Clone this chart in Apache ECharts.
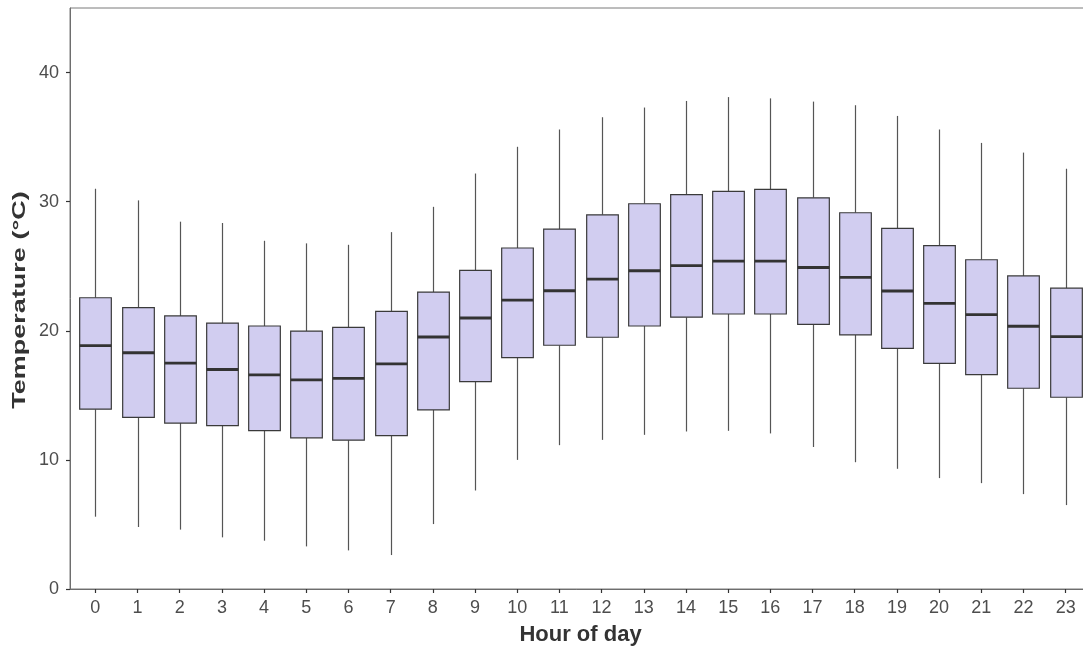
<!DOCTYPE html>
<html lang="en">
<head>
    <meta charset="UTF-8">
    <title>Temperature by hour</title>
    <script src="https://cdn.jsdelivr.net/npm/echarts@6/dist/echarts.min.js"></script>
    <style>
        html, body { margin: 0; padding: 0; background: #fff; }
        #boxchart { width: 1083px; height: 647px; }
    </style>
</head>
<body>
    <div id="boxchart"></div>
</body>
<script type="text/javascript">
    // hour of day (categories)
    var hours = [0, 1, 2, 3, 4, 5, 6, 7, 8, 9, 10, 11, 12, 13, 14, 15, 16, 17, 18, 19, 20, 21, 22, 23];
    // boxplot stats (°C)
    var whiskerHigh = [31.0, 30.1, 28.45, 28.35, 26.97, 26.77, 26.66, 27.64, 29.6, 32.18, 34.25, 35.59, 36.54, 37.29, 37.8, 38.1, 38.0, 37.75, 37.47, 36.64, 35.59, 34.55, 33.8, 32.55];
    var q3 = [22.56, 21.8, 21.15, 20.6, 20.37, 19.98, 20.27, 21.51, 23.0, 24.68, 26.41, 27.88, 28.98, 29.84, 30.55, 30.8, 30.95, 30.3, 29.14, 27.93, 26.59, 25.5, 24.25, 23.3];
    var median = [18.85, 18.3, 17.5, 17.0, 16.58, 16.19, 16.32, 17.43, 19.52, 20.99, 22.38, 23.1, 24.0, 24.65, 25.05, 25.4, 25.4, 24.9, 24.14, 23.08, 22.13, 21.25, 20.35, 19.55];
    var q1 = [13.93, 13.3, 12.85, 12.65, 12.27, 11.71, 11.53, 11.88, 13.87, 16.06, 17.92, 18.88, 19.5, 20.37, 21.05, 21.3, 21.3, 20.5, 19.68, 18.64, 17.48, 16.6, 15.55, 14.85];
    var whiskerLow = [5.6, 4.8, 4.6, 4.0, 3.74, 3.30, 2.99, 2.63, 5.03, 7.63, 10.0, 11.14, 11.55, 11.94, 12.2, 12.25, 12.05, 11.0, 9.82, 9.31, 8.59, 8.2, 7.35, 6.5];
    var yTicks = [0, 10, 20, 30, 40];

    var boxData = hours.map(function (h, i) {
        return [h, whiskerLow[i], q1[i], median[i], q3[i], whiskerHigh[i]];
    });

    var boxchart = echarts.init(document.getElementById('boxchart'));

    function renderBox(params, api) {
        var x = api.value(0);
        var lo = api.coord([x, api.value(1)]);
        var b1 = api.coord([x, api.value(2)]);
        var md = api.coord([x, api.value(3)]);
        var b3 = api.coord([x, api.value(4)]);
        var hi = api.coord([x, api.value(5)]);
        var half = api.size([0.75, 0])[0] / 2;
        var cx = Math.round(lo[0]) + 0.5;
        return {
            type: 'group',
            children: [
                { type: 'line', shape: { x1: cx, y1: hi[1], x2: cx, y2: b3[1] }, style: { stroke: '#555555', lineWidth: 1.2 } },
                { type: 'line', shape: { x1: cx, y1: b1[1], x2: cx, y2: lo[1] }, style: { stroke: '#555555', lineWidth: 1.2 } },
                { type: 'rect', shape: { x: cx - half, y: b3[1], width: half * 2, height: b1[1] - b3[1] },
                  style: { fill: '#d1cdf0', stroke: '#3a3a3a', lineWidth: 1.2 } },
                { type: 'line', shape: { x1: cx - half, y1: md[1], x2: cx + half, y2: md[1] }, style: { stroke: '#333333', lineWidth: 2.8 } }
            ]
        };
    }

    var option = {
        animation: false,
        grid: {
            left: 70,
            top: 8,
            width: 1021,
            height: 581,
            outerBoundsMode: 'none',
            containLabel: false,
            show: true,
            borderColor: '#7a7a7a',
            borderWidth: 1
        },
        // y title drawn as text, stretched along its length like the reference
        graphic: [{
            type: 'text',
            x: 20,
            y: 300,
            rotation: Math.PI / 2,
            scaleX: 1.5,
            style: {
                text: 'Temperature (°C)',
                font: 'bold 18px "Liberation Sans"',
                fill: '#333333',
                align: 'center',
                verticalAlign: 'middle'
            }
        }],
        xAxis: {
            type: 'value',
            min: -0.6,
            max: 23.6,
            name: 'Hour of day',
            nameLocation: 'middle',
            nameGap: 35,
            nameTextStyle: { fontFamily: 'Liberation Sans', fontSize: 22, fontWeight: 'bold', color: '#333333' },
            splitLine: { show: false },
            axisLine: { onZero: false, lineStyle: { color: '#6e6e6e', width: 1 } },
            axisTick: { length: 4, customValues: hours, lineStyle: { color: '#333333', width: 1.2 } },
            axisLabel: { customValues: hours, margin: 10, fontFamily: 'Liberation Sans', fontSize: 18, color: '#4d4d4d' }
        },
        yAxis: {
            type: 'value',
            min: 0,
            max: 45,
            splitLine: { show: false },
            axisLine: { show: true, onZero: false, lineStyle: { color: '#6e6e6e', width: 1 } },
            axisTick: { show: true, length: 4, customValues: yTicks, lineStyle: { color: '#333333', width: 1.2 } },
            axisLabel: { customValues: yTicks, margin: 11, fontFamily: 'Liberation Sans', fontSize: 18, color: '#4d4d4d' }
        },
        series: [{
            type: 'custom',
            renderItem: renderBox,
            encode: { x: 0, y: [1, 2, 3, 4, 5] },
            data: boxData
        }]
    };
    boxchart.setOption(option);
</script>
</html>
